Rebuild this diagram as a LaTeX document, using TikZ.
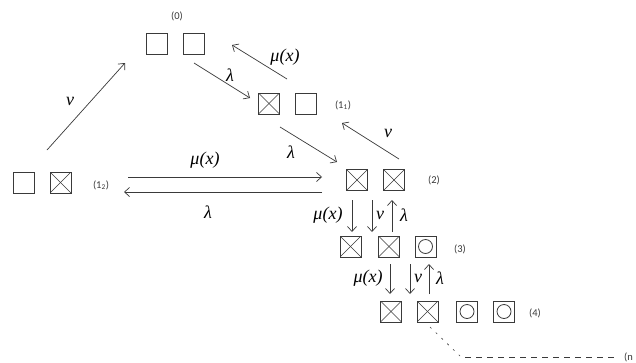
\documentclass[tikz,border=0pt]{standalone}
\usepackage{fontspec}
\setmainfont{Liberation Serif}
\newfontfamily\lblfont{Carlito}
\usetikzlibrary{arrows.meta}
\definecolor{ink}{HTML}{3A3A3A}
\tikzset{
  sbox/.style={draw=ink, line width=0.9pt, minimum size=21pt, inner sep=0pt, fill=white},
  ebox/.style={sbox},
  xbox/.style={sbox, path picture={
      \draw[ink, line width=0.5pt] (path picture bounding box.south west) -- (path picture bounding box.north east);
      \draw[ink, line width=0.5pt] (path picture bounding box.north west) -- (path picture bounding box.south east);}},
  obox/.style={sbox, path picture={
      \draw[ink, line width=0.8pt] (path picture bounding box.center) circle (7pt);}},
  arr/.style={draw=ink, line width=0.7pt, -{Straight Barb[length=5pt,width=9pt]}},
  mlab/.style={font=\fontsize{18}{20}\selectfont\itshape, inner sep=0pt},
  slab/.style={font=\lblfont\fontsize{10.5}{12}\selectfont, inner sep=0pt, text=ink},
}
\begin{document}
\begin{tikzpicture}[x=1pt,y=-1pt]
\useasboundingbox[fill=white] (0,0) rectangle (636,362);
% state (0)
\node[ebox] (b01) at (157,44) {};
\node[ebox] (b02) at (194,44) {};
\node[slab] (l0) at (177,16) {(0)};
% state (1_1)
\node[xbox] (b11) at (269,103.5) {};
\node[ebox] (b12) at (305.5,103.5) {};
\node[slab] (l11) at (343,105) {(1\textsubscript{1})};
% state (2)
\node[xbox] (b21) at (357,180) {};
\node[xbox] (b22) at (394,180) {};
\node[slab] (l2) at (434,180) {(2)};
% state (1_2)
\node[ebox] (a1) at (23.5,182.5) {};
\node[xbox] (a2) at (60.5,182.5) {};
\node[slab] (l12) at (101,185) {(1\textsubscript{2})};
% state (3)
\node[xbox] (c1) at (350.5,246.5) {};
\node[xbox] (c2) at (389,246.5) {};
\node[obox] (c3) at (425.5,246.5) {};
\node[slab] (l3) at (460,249) {(3)};
% state (4)
\node[xbox] (d1) at (391,311.5) {};
\node[xbox] (d2) at (427.5,311.5) {};
\node[obox] (d3) at (467,311.5) {};
\node[obox] (d4) at (504,311.5) {};
\node[slab] (l4) at (535,313) {(4)};
\node[slab, anchor=west] (ln) at (624,357) {(n};

% arrow end points
\coordinate (p1s) at (47,150);  \coordinate (p1e) at (125,63);
\coordinate (p2s) at (194,63);  \coordinate (p2e) at (250,98);
\coordinate (p3s) at (287,79);  \coordinate (p3e) at (232,45);
\coordinate (p4s) at (280,127); \coordinate (p4e) at (337,162);
\coordinate (p5s) at (399,159); \coordinate (p5e) at (342,123);
\coordinate (p6s) at (128,177); \coordinate (p6e) at (322,177);
\coordinate (p7s) at (322,192); \coordinate (p7e) at (124,192);
\coordinate (v1s) at (352,200); \coordinate (v1e) at (352,232);
\coordinate (v2s) at (372,200); \coordinate (v2e) at (372,232);
\coordinate (v3s) at (392,232); \coordinate (v3e) at (392,200);
\coordinate (w1s) at (390,264); \coordinate (w1e) at (390,294);
\coordinate (w2s) at (410,264); \coordinate (w2e) at (410,294);
\coordinate (w3s) at (429,294); \coordinate (w3e) at (429,264);
\coordinate (q1) at (430,327);
\coordinate (q2) at (460,356);
\coordinate (q3) at (465,357.5);
\coordinate (q4) at (614,357.5);

\draw[arr] (p1s) -- (p1e);
\draw[arr] (p2s) -- (p2e);
\draw[arr] (p3s) -- (p3e);
\draw[arr] (p4s) -- (p4e);
\draw[arr] (p5s) -- (p5e);
\draw[arr] (p6s) -- (p6e);
\draw[arr] (p7s) -- (p7e);
\draw[arr] (v1s) -- (v1e);
\draw[arr] (v2s) -- (v2e);
\draw[arr] (v3s) -- (v3e);
\draw[arr] (w1s) -- (w1e);
\draw[arr] (w2s) -- (w2e);
\draw[arr] (w3s) -- (w3e);
\draw[ink, line width=0.6pt, dash pattern=on 2pt off 6pt] (q1) -- (q2);
\draw[ink, line width=0.7pt, dash pattern=on 6pt off 5pt] (q3) -- (q4);

% labels
\node[mlab] (t1) at (70,101) {ν};
\node[mlab] (t2) at (230,75) {λ};
\node[mlab] (t3) at (285,57) {μ(x)};
\node[mlab] (t4) at (291,152) {λ};
\node[mlab] (t5) at (388,133) {ν};
\node[mlab] (t6) at (205,160) {μ(x)};
\node[mlab] (t7) at (208,212) {λ};
\node[mlab] (t8) at (328,215) {μ(x)};
\node[mlab] (t9) at (380,215) {ν};
\node[mlab] (t10) at (404,215) {λ};
\node[mlab] (t11) at (368,278) {μ(x)};
\node[mlab] (t12) at (418,278) {ν};
\node[mlab] (t13) at (440,278) {λ};
\end{tikzpicture}
\end{document}
